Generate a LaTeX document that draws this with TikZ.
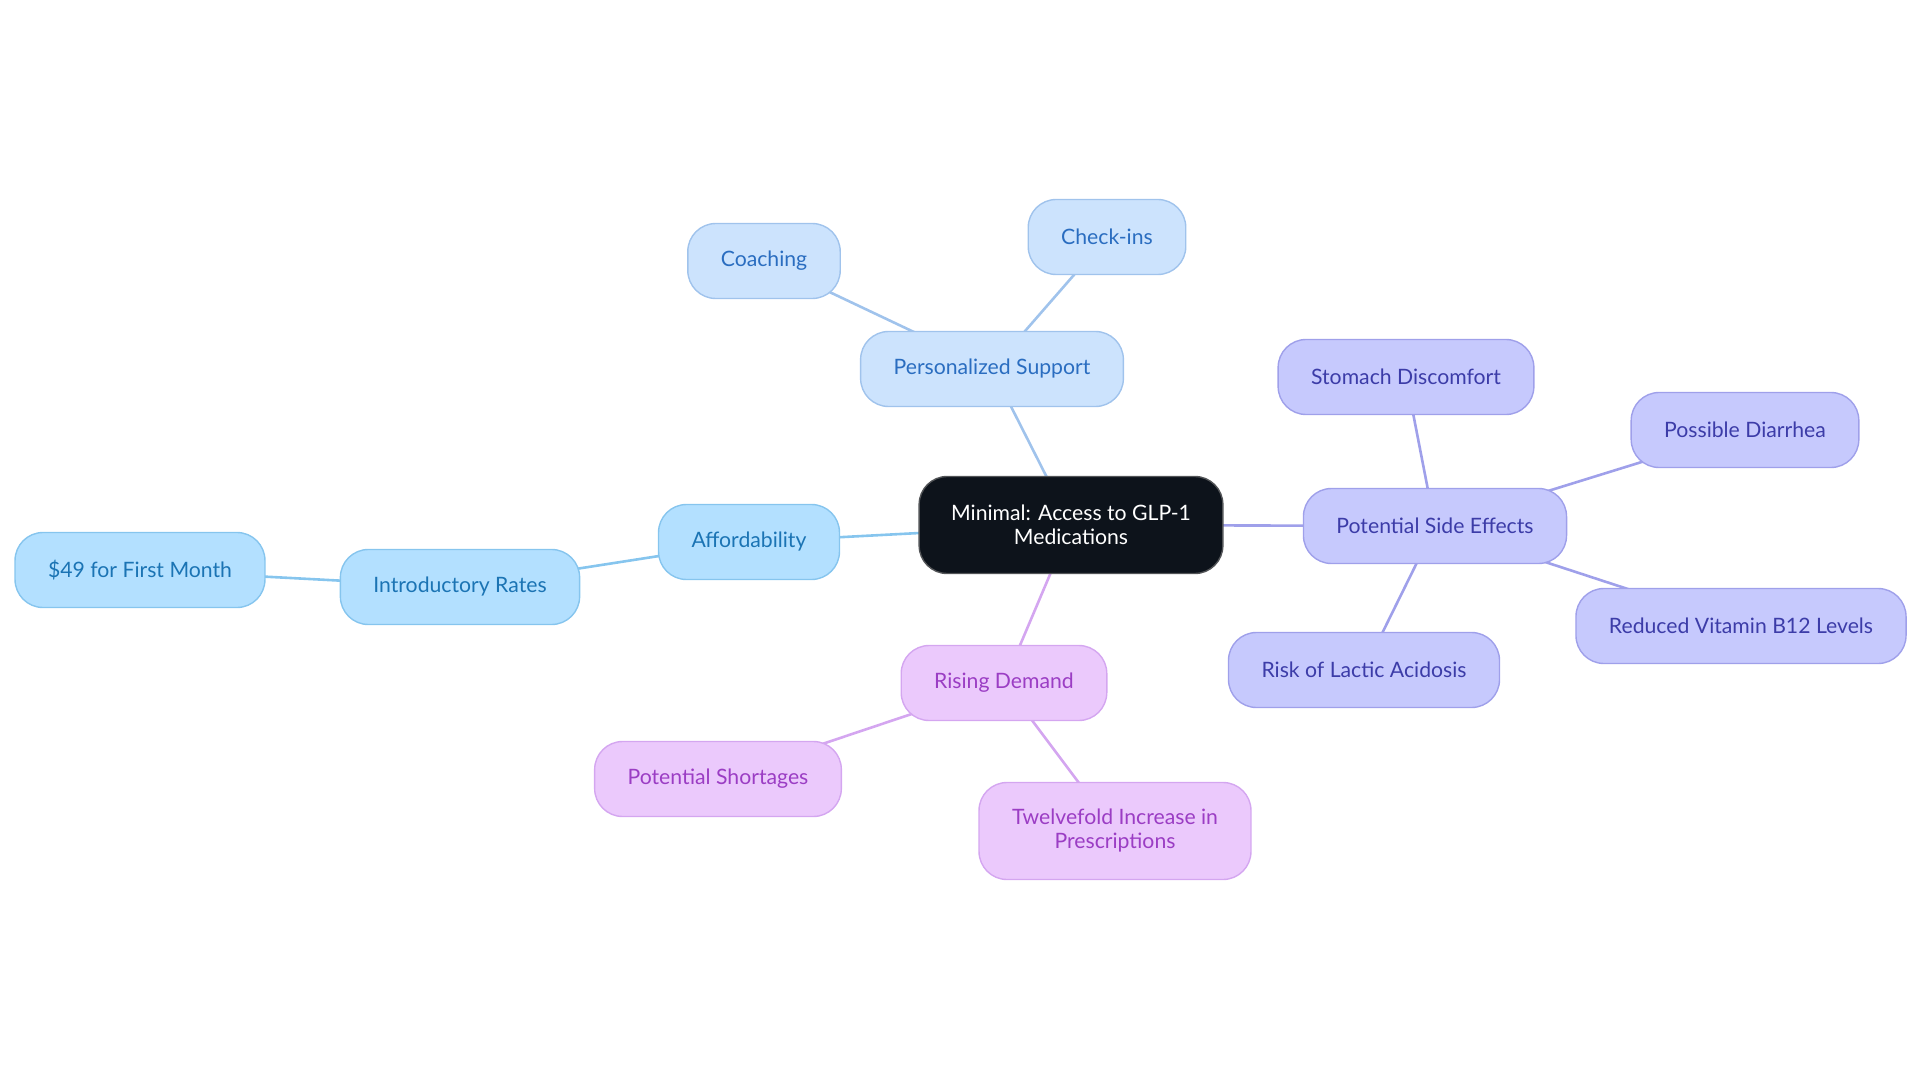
\documentclass[tikz,border=0pt]{standalone}
\usepackage{fontspec}
\setmainfont{Lato}
\usetikzlibrary{backgrounds}
\definecolor{ciel}{HTML}{B3E0FF}
\definecolor{cielbord}{HTML}{86C5EE}
\definecolor{cieltexte}{HTML}{1B74B4}
\definecolor{pale}{HTML}{CCE3FD}
\definecolor{palebord}{HTML}{A0C3EC}
\definecolor{paletexte}{HTML}{2A6DC0}
\definecolor{lavande}{HTML}{C6C9FD}
\definecolor{lavandebord}{HTML}{9FA0EA}
\definecolor{lavandetexte}{HTML}{3C3CA8}
\definecolor{rose}{HTML}{EBC9FC}
\definecolor{rosebord}{HTML}{D4A6F0}
\definecolor{rosetexte}{HTML}{9B3DC4}
\definecolor{nuit}{HTML}{0D131B}
\tikzset{
  bulle/.style={rounded corners=28pt, line width=1.4pt, minimum height=75pt,
    inner xsep=33pt, align=center, font=\fontsize{21.2}{24}\selectfont},
  bciel/.style={bulle, fill=ciel, draw=cielbord, text=cieltexte},
  bpale/.style={bulle, fill=pale, draw=palebord, text=paletexte},
  blav/.style={bulle, fill=lavande, draw=lavandebord, text=lavandetexte},
  brose/.style={bulle, fill=rose, draw=rosebord, text=rosetexte},
  lien/.style={line width=2.6pt}
}
\begin{document}
\begin{tikzpicture}[x=1pt,y=-1pt]
            \useasboundingbox (0,0) rectangle (1920,1083);
            % Nœud central
            \node[bulle, fill=nuit, draw=gray!60!nuit, text=white, minimum height=97pt, inner xsep=32pt] (centre) at (1071,525) {Minimal: Access to GLP-1\\Medications};
            % Soutien personnalisé
            \node[bpale] (soutien) at (992,369) {Personalized Support};
            \node[bpale] (coaching) at (764,261) {Coaching};
            \node[bpale] (suivi) at (1107,237) {Check-ins};
            % Prix
            \node[bciel] (prix) at (749,542) {Affordability};
            \node[bciel] (tarifs) at (460,587) {Introductory Rates};
            \node[bciel] (mois) at (140,570) {\$49 for First Month};
            % Demande
            \node[brose] (demande) at (1004,683) {Rising Demand};
            \node[brose] (penurie) at (718,779) {Potential Shortages};
            \node[brose, minimum height=97pt] (hausse) at (1115,831) {Twelvefold Increase in\\Prescriptions};
            % Effets secondaires
            \node[blav] (effets) at (1435,526) {Potential Side Effects};
            \node[blav] (estomac) at (1406,377) {Stomach Discomfort};
            \node[blav] (diarrhee) at (1745,430) {Possible Diarrhea};
            \node[blav] (vitamine) at (1741,626) {Reduced Vitamin B12 Levels};
            \node[blav] (acidose) at (1364,670) {Risk of Lactic Acidosis};
            \begin{scope}[on background layer]
                \draw[lien, palebord] (centre.center) -- (soutien.center);
                \draw[lien, palebord] (soutien.center) -- (coaching.center);
                \draw[lien, palebord] (soutien.center) -- (suivi.center);
                \draw[lien, cielbord] (centre.center) -- (prix.center);
                \draw[lien, cielbord] (prix.center) -- (tarifs.center);
                \draw[lien, cielbord] (tarifs.center) -- (mois.center);
                \draw[lien, rosebord] (centre.center) -- (demande.center);
                \draw[lien, rosebord] (demande.center) -- (penurie.center);
                \draw[lien, rosebord] (demande.center) -- (hausse.center);
                \draw[lien, lavandebord] (centre.center) -- (effets.center);
                \foreach \n in {estomac,diarrhee,vitamine,acidose}
                    \draw[lien, lavandebord] (effets.center) -- (\n.center);
            \end{scope}
        \end{tikzpicture}
\end{document}
